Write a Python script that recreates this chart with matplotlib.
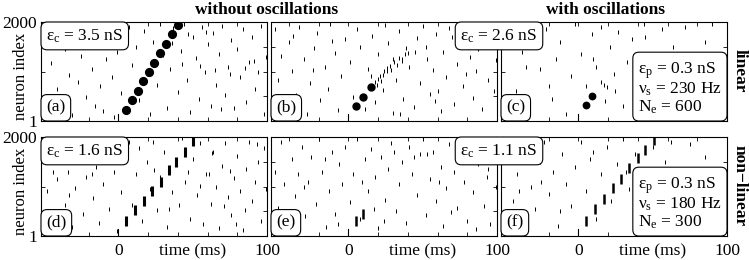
import matplotlib.pyplot as plt
import numpy as np
from matplotlib.transforms import offset_copy

plt.rcParams['font.family'] = ['Liberation Serif', 'DejaVu Serif']
plt.rcParams['mathtext.fontset'] = 'custom'
plt.rcParams['mathtext.rm'] = 'Liberation Serif'
plt.rcParams['mathtext.it'] = 'Liberation Serif:italic'

# background spikes: (time ms, neuron index)
bg_a = [(-48, 420), (-45, 1180), (-44, 1700), (-41, 650), (-38, 260), (-36, 1450), (-33, 930), (-31, 120),
        (-29, 1620), (-27, 780), (-25, 1320), (-22, 480), (-20, 1890), (-18, 1050), (-16, 300), (-14, 1560),
        (-12, 700), (-10, 210), (-8, 1250), (-6, 1780), (-4, 880), (-3, 90), (-1, 1400), (2, 560), (4, 1680),
        (7, 1900), (9, 1130), (12, 1500), (14, 420), (17, 1820), (19, 960), (21, 140), (23, 1600), (26, 720),
        (28, 1950), (30, 1340), (33, 260), (35, 1050), (37, 1880), (40, 580), (42, 1420), (44, 1960), (46, 830),
        (48, 190), (50, 1700), (52, 1270), (54, 450), (56, 1900), (58, 990), (60, 1560), (62, 310), (64, 1780),
        (66, 720), (68, 1350), (70, 1920), (72, 520), (74, 1100), (76, 1640), (78, 260), (80, 1450), (82, 880),
        (84, 1850), (86, 380), (88, 1200), (90, 1700), (92, 640), (94, 1000), (96, 1910), (98, 150), (99, 1300),
        (43, 1150), (55, 1120), (65, 1030), (75, 940), (85, 1080), (91, 1220), (59, 1790), (47, 1760), (36, 1580),
        (69, 240)]
bg_b = [(-49, 1850), (-47, 820), (-45, 1320), (-43, 300), (-40, 1600), (-38, 1020), (-35, 520), (-33, 1900),
        (-30, 1250), (-28, 150), (-26, 760), (-23, 1480), (-21, 1780), (-19, 420), (-16, 1100), (-14, 640),
        (-12, 1950), (-9, 1380), (-7, 230), (-5, 900), (-2, 1650), (1, 1200), (3, 480), (6, 1860), (8, 1500),
        (11, 250), (13, 1050), (16, 1720), (18, 380), (20, 1350), (23, 620), (25, 1940), (27, 1580), (30, 160),
        (32, 830), (34, 1820), (37, 450), (39, 1470), (41, 1100), (44, 290), (46, 1680), (48, 760), (50, 1920),
        (53, 1260), (55, 540), (57, 1030), (59, 1750), (62, 210), (64, 1400), (66, 880), (68, 1880), (71, 350),
        (73, 1150), (75, 1620), (77, 700), (80, 1960), (82, 1300), (84, 460), (86, 1010), (88, 1780), (90, 240),
        (92, 1500), (94, 820), (96, 1880), (98, 600), (99, 1230), (26, 1080), (36, 1250), (45, 1400), (52, 1500),
        (60, 600), (70, 1700), (79, 950), (87, 1450), (35, 150), (58, 400), (-24, 1030), (-11, 1620), (15, 900),
        (-37, 1720),
        # fading tail of the chain
        (20, 850), (21, 900), (23, 930), (24, 1010), (26, 1020), (28, 1120), (29, 1040), (31, 1200), (33, 1140),
        (34, 1270), (36, 1210), (38, 1350), (40, 1380), (22, 810), (30, 1250), (18, 780), (19, 730)]
bg_c = [(-45, 1900), (-42, 600), (-38, 1400), (-33, 250), (-30, 1700), (-26, 1050), (-22, 1850), (-18, 450),
        (-15, 1250), (-12, 1600), (-8, 150), (-5, 900), (-2, 1950), (2, 1350), (5, 700), (9, 1750), (12, 1100),
        (15, 1900), (18, 400), (21, 1500), (24, 950), (27, 1800), (30, 300), (33, 1200), (36, 1650), (40, 800),
        (44, 1950), (48, 550), (52, 1350), (56, 1850), (60, 1000), (64, 1500), (68, 300), (72, 1900), (76, 1200),
        (80, 700), (85, 1600), (90, 1950), (95, 1050), (-35, 1100), (-20, 700), (10, 1250), (25, 600), (45, 1700),
        (-48, 200), (15, 780), (17, 720), (19, 690)]
bg_d = [(-48, 900), (-46, 1500), (-43, 330), (-41, 1150), (-39, 1750), (-36, 620), (-34, 1300), (-31, 180),
        (-29, 980), (-27, 1620), (-24, 450), (-22, 1200), (-20, 1850), (-17, 760), (-15, 1400), (-13, 260),
        (-10, 1050), (-8, 1700), (-6, 540), (-3, 1300), (-1, 110), (2, 880), (4, 1600), (7, 1900), (9, 620),
        (12, 1250), (14, 1780), (16, 300), (19, 1500), (21, 960), (23, 1900), (26, 520), (28, 1200), (31, 1700),
        (33, 180), (36, 880), (38, 1450), (41, 620), (43, 1980), (45, 1100), (48, 340), (50, 1560), (53, 820),
        (55, 1880), (57, 240), (59, 1250), (62, 640), (64, 1700), (66, 1000), (68, 160), (70, 1420), (72, 1880),
        (74, 780), (76, 420), (78, 1180), (80, 1620), (82, 900), (84, 120), (86, 1350), (88, 1900), (90, 700),
        (92, 1100), (94, 1500), (96, 300), (98, 1780), (99, 950), (61, 1250), (75, 1310), (71, 600), (85, 520),
        (93, 1850), (63, 1680), (55, 1010), (47, 1300), (34, 540), (-18, 1250), (-33, 820), (-44, 1300),
        (24, 1330), (79, 250)]
bg_e = [(-49, 1300), (-47, 560), (-45, 1900), (-43, 1050), (-40, 230), (-38, 1550), (-36, 800), (-34, 1250),
        (-31, 1800), (-29, 400), (-27, 1100), (-25, 1600), (-22, 650), (-20, 1950), (-18, 1300), (-15, 180),
        (-13, 900), (-11, 1700), (-9, 450), (-6, 1450), (-4, 1050), (-2, 1800), (1, 680), (3, 1250), (6, 1950),
        (8, 350), (11, 1550), (13, 900), (15, 1750), (18, 1200), (20, 160), (22, 1600), (25, 720), (27, 1350),
        (29, 1880), (32, 500), (34, 1050), (36, 1500), (39, 260), (41, 1800), (43, 1250), (46, 820), (48, 1650),
        (50, 1950), (52, 420), (55, 1150), (57, 1700), (59, 700), (62, 1400), (64, 200), (66, 980), (68, 1850),
        (71, 1300), (73, 560), (75, 1600), (78, 1100), (80, 310), (82, 1750), (84, 880), (87, 1450), (89, 1950),
        (91, 600), (93, 1200), (95, 250), (97, 1600), (99, 1000), (-30, 1000), (-16, 1550), (-7, 250), (9, 1100),
        (17, 550), (31, 1700), (44, 1600), (53, 1650), (61, 1100), (69, 480), (77, 1850), (86, 150), (94, 1350),
        (24, 300)]
bg_f = [(-47, 1650), (-44, 700), (-41, 1250), (-38, 300), (-35, 1850), (-32, 1000), (-29, 550), (-26, 1500),
        (-23, 1900), (-20, 850), (-17, 1300), (-14, 200), (-11, 1650), (-8, 1050), (-5, 600), (-2, 1400),
        (2, 1900), (5, 900), (8, 1550), (12, 350), (15, 1250), (19, 1800), (22, 700), (26, 1450), (30, 1950),
        (34, 950), (38, 1650), (42, 450), (46, 1250), (50, 1800), (54, 900), (58, 1500), (62, 1900), (66, 700),
        (70, 1300), (75, 1850), (80, 1050), (85, 1600), (90, 400), (95, 1200), (-40, 900), (-25, 1100),
        (-12, 500), (10, 1700), (32, 1300), (-50, 1950)]

# synchronous pulse packets travelling along the chain
grp_a_t = [5, 9, 13, 16.5, 20.5, 24, 28, 32, 36, 40]
grp_a_n = [230, 420, 610, 800, 990, 1180, 1370, 1560, 1750, 1940]
grp_b_t = [5, 10, 15]
grp_b_n = [310, 480, 690]
grp_c_t = [5, 9.5]
grp_c_n = [320, 500]
grp_d_t = [5.5, 11.5, 17, 22.5, 28.5, 34, 39, 45, 50]
grp_d_n = [300, 520, 710, 900, 1090, 1330, 1500, 1690, 1920]
grp_e_t = [5, 10]
grp_e_n = [300, 440]
grp_f_t = [5.5, 11.5, 17, 23, 28.5, 34, 40, 45, 51]
grp_f_n = [306, 550, 755, 980, 1160, 1365, 1570, 1735, 1940]

eps_c = ['3.5', '2.6', '1.6', '1.1']
params_c = ('0.3', '230', '600')
params_f = ('0.3', '180', '300')

W, H = 749, 260
fig = plt.figure(figsize=(W / 100, H / 100), dpi=100)

cols_x = [41, 271, 501]
col_w = 226
rows_y = [22, 137]
row_h = 99

panels = [
    (bg_a, grp_a_t, grp_a_n, dict(marker='o', ms=5.6)),
    (bg_b, grp_b_t, grp_b_n, dict(marker='o', ms=5)),
    (bg_c, grp_c_t, grp_c_n, dict(marker='o', ms=4.6)),
    (bg_d, grp_d_t, grp_d_n, dict(marker='|', ms=7.5, mew=2.2)),
    (bg_e, grp_e_t, grp_e_n, dict(marker='|', ms=7.5, mew=1.8)),
    (bg_f, grp_f_t, grp_f_n, dict(marker='|', ms=7.5, mew=1.8)),
]
letters = 'abcdef'

box = dict(boxstyle='round,pad=0.3,rounding_size=0.35', fc='w', ec='k', lw=0.8)
fs = 12.5
pad = 0.3 * fs

axes = []
for i, (bg, gt, gn, style) in enumerate(panels):
    r, c = divmod(i, 3)
    ax = fig.add_axes([cols_x[c] / W, 1 - (rows_y[r] + row_h) / H, col_w / W, row_h / H])
    axes.append(ax)
    bg = np.array(bg)
    ax.plot(bg[:, 0], bg[:, 1], '|', color='k', ms=2.6, mew=0.7, ls='none')
    ax.plot(gt, gn, ls='none', color='k', **style)
    ax.plot([0, 0], [1, 150], color='k', lw=0.8)
    ax.set_xlim(-52, 100)
    ax.set_ylim(1, 2000)
    ax.tick_params(direction='in', top=True, right=True, length=3, width=0.6, labelsize=fs, pad=5)
    for s in ax.spines.values():
        s.set_linewidth(0.8)
    ax.set_yticks([1, 500, 1000, 1500, 2000])
    ax.set_yticklabels(['1', '', '', '', '2000'] if c == 0 else [''] * 5)
    ax.tick_params(axis='y', pad=3)
    ax.set_xticks([-40, -20, 0, 20, 40, 60, 80, 100])
    ax.set_xticklabels(['', '', '0', '', '', '', '', '100'] if r == 1 else [''] * 8)
    if r == 1:
        ax.annotate('time (ms)', xy=(50, 0), xycoords=('data', 'axes fraction'), xytext=(0, -5),
                    textcoords='offset points', ha='center', va='top', fontsize=fs)
    ax.annotate('(%s)' % letters[i], xy=(0, 0), xycoords='axes fraction', xytext=(pad, pad),
                textcoords='offset points', ha='left', va='bottom', fontsize=fs, bbox=box, zorder=6)

# coupling strength boxes
axes[0].annotate('ε$_{\\rm c}$ = %s nS' % eps_c[0], xy=(0, 1), xycoords='axes fraction', xytext=(pad, -pad),
                 textcoords='offset points', ha='left', va='top', fontsize=fs, bbox=box, zorder=6)
axes[3].annotate('ε$_{\\rm c}$ = %s nS' % eps_c[2], xy=(0, 1), xycoords='axes fraction', xytext=(pad, -pad),
                 textcoords='offset points', ha='left', va='top', fontsize=fs, bbox=box, zorder=6)
tr = offset_copy(fig.transFigure, fig=fig, x=0, y=-pad, units='points')
fig.text(499 / W, 1 - rows_y[0] / H, 'ε$_{\\rm c}$ = %s nS' % eps_c[1], transform=tr, ha='center', va='top',
         fontsize=fs, bbox=box, zorder=6)
fig.text(499 / W, 1 - rows_y[1] / H, 'ε$_{\\rm c}$ = %s nS' % eps_c[3], transform=tr, ha='center', va='top',
         fontsize=fs, bbox=box, zorder=6)

# oscillation parameters
for ax, (ep, nu, ne) in [(axes[2], params_c), (axes[5], params_f)]:
    txt = 'ε$_{\\rm p}$ = %s nS\nν$_{\\rm s}$ = %s Hz\nN$_{\\rm e}$ = %s' % (ep, nu, ne)
    ax.annotate(txt, xy=(1, 0), xycoords='axes fraction', xytext=(-pad, pad), textcoords='offset points',
                ha='right', va='bottom', fontsize=fs, bbox=box, zorder=6, linespacing=1.0,
                multialignment='left')

for y in rows_y:
    fig.text(21 / W, 1 - (y + row_h / 2 + 5) / H, 'neuron index', rotation=90, ha='center', va='center',
             fontsize=12)

fig.text(267 / W, 1 - 10 / H, 'without oscillations', ha='center', va='center', fontsize=fs, weight='bold')
fig.text(605 / W, 1 - 10 / H, 'with oscillations', ha='center', va='center', fontsize=fs, weight='bold')
fig.text(740 / W, 1 - 71 / H, 'linear', rotation=270, ha='center', va='center', fontsize=fs, weight='bold')
fig.text(740 / W, 1 - 186 / H, 'non\u2212linear', rotation=270, ha='center', va='center', fontsize=fs,
         weight='bold')

fig.savefig('out.png', dpi=100)
